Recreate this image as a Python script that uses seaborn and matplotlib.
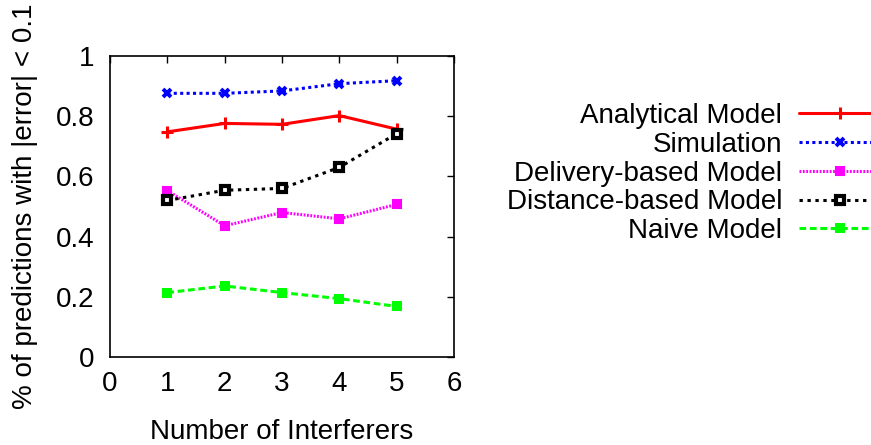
import matplotlib
matplotlib.use("Agg")
import matplotlib.pyplot as plt
import seaborn as sns
import pandas as pd

# values
interferers = [1, 2, 3, 4, 5]
analytical = [0.748, 0.776, 0.773, 0.802, 0.757]
simulation = [0.876, 0.876, 0.884, 0.908, 0.918]
delivery = [0.553, 0.436, 0.480, 0.459, 0.507]
distance = [0.520, 0.554, 0.560, 0.630, 0.742]
naive = [0.214, 0.236, 0.214, 0.194, 0.168]

x_ticks = [0, 1, 2, 3, 4, 5, 6]
y_ticks = [0, 0.2, 0.4, 0.6, 0.8, 1]
y_tick_labels = ["0", "0.2", "0.4", "0.6", "0.8", "1"]

series_names = ["Analytical Model", "Simulation", "Delivery-based Model",
                "Distance-based Model", "Naive Model"]
series_values = [analytical, simulation, delivery, distance, naive]

sns.set_style("white")
plt.rcParams["font.family"] = ["Liberation Sans", "DejaVu Sans"]
plt.rcParams["text.color"] = "black"
plt.rcParams["axes.labelcolor"] = "black"
FS = 20

# line / marker style for each series (gnuplot look)
styles = {
    "Analytical Model": dict(color="#ff0000", linestyle="-", marker="+",
                             markersize=8, markeredgewidth=2.2,
                             markeredgecolor="#ff0000"),
    "Simulation": dict(color="#0000ff", linestyle=(0, (1, 1.1)), marker="x",
                       markersize=6, markeredgewidth=2.8,
                       markeredgecolor="#0000ff"),
    "Delivery-based Model": dict(color="#ff00ff", linestyle=(0, (0.6, 0.5)), marker="s",
                                 markersize=6, markeredgewidth=1.5,
                                 markeredgecolor="#ff00ff"),
    "Distance-based Model": dict(color="#000000", linestyle=(0, (1.1, 1.5)), marker="s",
                                 markersize=5.5, markeredgewidth=3,
                                 markerfacecolor="white", markeredgecolor="black"),
    "Naive Model": dict(color="#00ff00", linestyle=(0, (2.2, 1.2)), marker="s",
                        markersize=7, markeredgewidth=0),
}

fig = plt.figure(figsize=(8.71, 4.45), dpi=100)
ax = fig.add_axes([110 / 871, 1 - 357 / 445, 344 / 871, 301 / 445])

for name, vals in zip(series_names, series_values):
    df = pd.DataFrame({"x": interferers, "y": vals})
    sns.lineplot(data=df, x="x", y="y", ax=ax, label=name, linewidth=2.2,
                 **styles[name])

ax.set_xlim(0, 6)
ax.set_ylim(0, 1)
ax.set_xticks(x_ticks)
ax.set_xticklabels([str(t) for t in x_ticks])
ax.set_yticks(y_ticks)
ax.set_yticklabels(y_tick_labels)
ax.tick_params(direction="in", length=5, width=1, top=True, right=True,
               labelsize=FS, colors="black")
ax.tick_params(axis="y", pad=11)
ax.tick_params(axis="x", pad=10)
for sp in ax.spines.values():
    sp.set_color("black")
    sp.set_linewidth(1.2)

ax.set_xlabel("Number of Interferers", fontsize=FS, labelpad=16)
ax.set_ylabel("% of predictions with |error| < 0.1", fontsize=FS)
ax.yaxis.set_label_coords(-0.21, 0.5)

handles, labels = ax.get_legend_handles_labels()
ax.get_legend().remove()
fig.legend(handles, labels, loc="upper right", bbox_to_anchor=(880 / 871, 1 - 103 / 445),
           frameon=False, markerfirst=False, fontsize=FS, borderpad=0,
           handlelength=2.9, handletextpad=0.62, labelspacing=0.1,
           numpoints=1, borderaxespad=0)

fig.savefig("out.png", dpi=100)
